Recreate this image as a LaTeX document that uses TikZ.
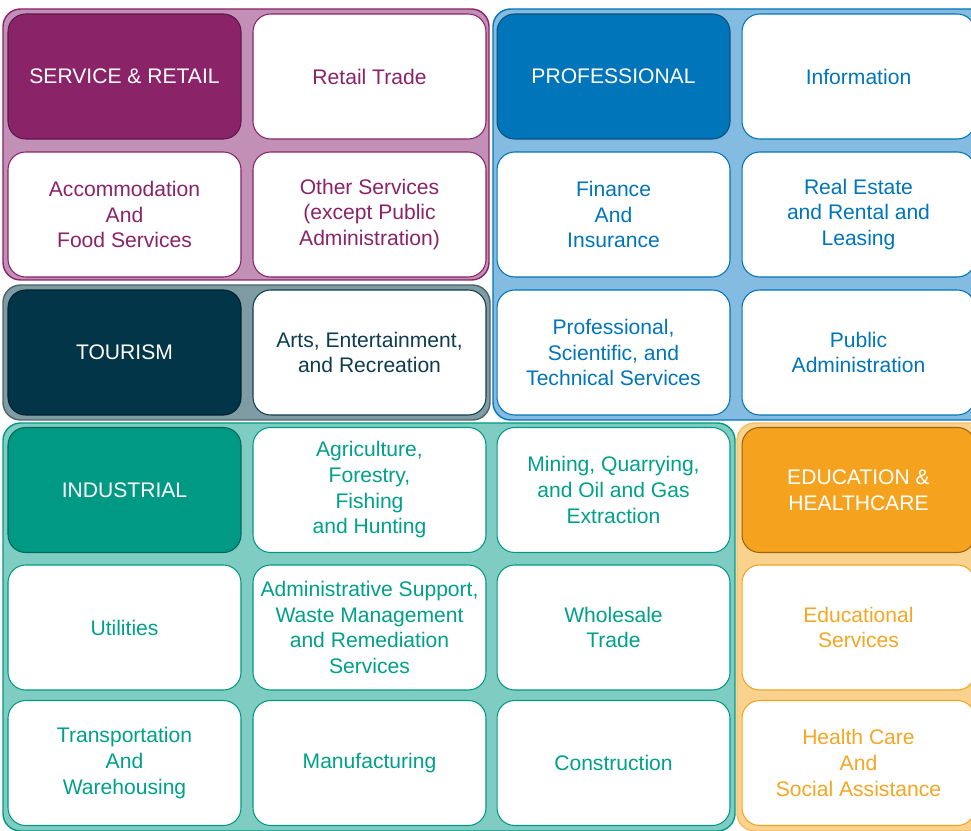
\documentclass[tikz,border=0pt]{standalone}
\usepackage{fontspec}
\setmainfont{Liberation Sans}
\usetikzlibrary{positioning}

\definecolor{srDark}{HTML}{8B2369}
\definecolor{srEdge}{HTML}{5E1749}
\definecolor{srLight}{HTML}{C28FB6}
\definecolor{prDark}{HTML}{0075BA}
\definecolor{prEdge}{HTML}{0B4F7E}
\definecolor{prLight}{HTML}{84BBE0}
\definecolor{toDark}{HTML}{023547}
\definecolor{toEdge}{HTML}{01212D}
\definecolor{toLight}{HTML}{7F9BA3}
\definecolor{toText}{HTML}{0F3D4F}
\definecolor{inDark}{HTML}{009A84}
\definecolor{inEdge}{HTML}{00695A}
\definecolor{inLight}{HTML}{7FCDC2}
\definecolor{inText}{HTML}{00A08A}
\definecolor{edDark}{HTML}{F5A31E}
\definecolor{edEdge}{HTML}{9C6410}
\definecolor{edLight}{HTML}{F9D28E}
\definecolor{edText}{HTML}{F5A623}

\tikzset{
    tile/.style={draw, fill=white, rounded corners=10pt, line width=0.6pt,
        minimum width=4.66cm, minimum height=2.5cm, inner sep=0pt, align=center,
        font=\fontsize{12}{14.6}\selectfont},
    hdr/.style={tile, text=white},
    grp/.style={rounded corners=10pt, line width=0.8pt},
}

\begin{document}
\begin{tikzpicture}[x=0.02cm, y=-0.02cm]
    \useasboundingbox (0,0) rectangle (971,831);
    \clip (0,0) rectangle (971,831);

    % group backgrounds
    \draw[grp, draw=srDark, fill=srLight] (3,9) rectangle (489,280);
    \draw[grp, draw=toEdge!70, fill=toLight] (3,285) rectangle (490,420);
    \draw[grp, draw=prDark, fill=prLight] (493,9) rectangle (990,420);
    \draw[grp, draw=inDark, fill=inLight] (3,423) rectangle (735,831);
    \draw[grp, draw=edDark!70, fill=edLight] (737,423) rectangle (990,831);

    % service & retail
    \node[hdr, fill=srDark, draw=srEdge] (service) at (124.5,76.5) {SERVICE \& RETAIL};
    \node[tile, draw=srDark, text=srDark] (retail) at (369.5,76.5) {Retail Trade};
    \node[tile, draw=srDark, text=srDark] (accom) at (124.5,214.5) {Accommodation\\And\\Food Services};
    \node[tile, draw=srDark, text=srDark] (other) at (369.5,214.5) {Other Services\\(except Public\\Administration)};

    % tourism
    \node[hdr, fill=toDark, draw=toEdge] (tourism) at (124.5,352.5) {TOURISM};
    \node[tile, draw=toText, text=toText] (arts) at (369.5,352.5) {Arts, Entertainment,\\and Recreation};

    % professional
    \node[hdr, fill=prDark, draw=prEdge] (prof) at (613.5,76.5) {PROFESSIONAL};
    \node[tile, draw=prDark, text=prDark] (info) at (858.5,76.5) {Information};
    \node[tile, draw=prDark, text=prDark] (finance) at (613.5,214.5) {Finance\\And\\Insurance};
    \node[tile, draw=prDark, text=prDark] (estate) at (858.5,214.5) {Real Estate\\and Rental and\\Leasing};
    \node[tile, draw=prDark, text=prDark] (science) at (613.5,352.5) {Professional,\\Scientific, and\\Technical Services};
    \node[tile, draw=prDark, text=prDark] (public) at (858.5,352.5) {Public\\Administration};

    % industrial
    \node[hdr, fill=inDark, draw=inEdge] (industrial) at (124.5,490) {INDUSTRIAL};
    \node[tile, draw=inDark, text=inText] (agri) at (369.5,490) {Agriculture,\\Forestry,\\Fishing\\and Hunting};
    \node[tile, draw=inDark, text=inText] (mining) at (613.5,490) {Mining, Quarrying,\\and Oil and Gas\\Extraction};
    \node[tile, draw=inDark, text=inText] (utilities) at (124.5,627.5) {Utilities};
    \node[tile, draw=inDark, text=inText] (admin) at (369.5,627.5) {Administrative Support,\\Waste Management\\and Remediation\\Services};
    \node[tile, draw=inDark, text=inText] (wholesale) at (613.5,627.5) {Wholesale\\Trade};
    \node[tile, draw=inDark, text=inText] (transport) at (124.5,763) {Transportation\\And\\Warehousing};
    \node[tile, draw=inDark, text=inText] (manuf) at (369.5,763) {Manufacturing};
    \node[tile, draw=inDark, text=inText] (construct) at (613.5,763) {Construction};

    % education & healthcare
    \node[hdr, fill=edDark, draw=edEdge] (education) at (858.5,490) {EDUCATION \&\\HEALTHCARE};
    \node[tile, draw=edDark, text=edText] (school) at (858.5,627.5) {Educational\\Services};
    \node[tile, draw=edDark, text=edText] (health) at (858.5,763) {Health Care\\And\\Social Assistance};
\end{tikzpicture}
\end{document}
